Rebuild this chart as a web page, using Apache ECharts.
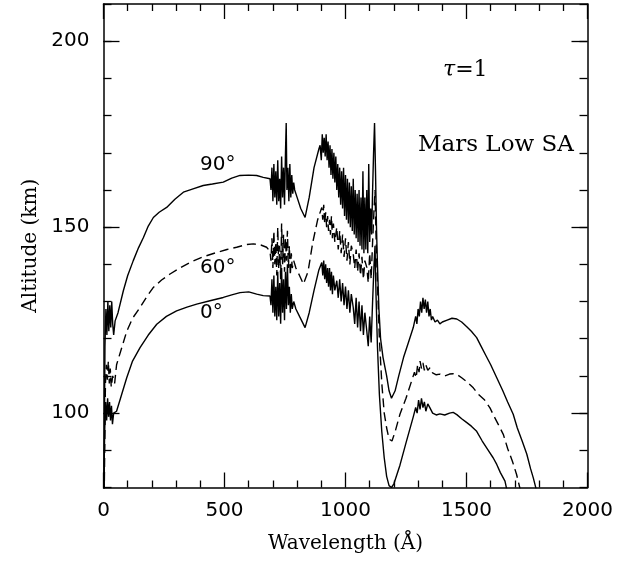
<!DOCTYPE html>
<html>
<head>
<meta charset="utf-8">
<script src="https://cdn.jsdelivr.net/npm/echarts@6/dist/echarts.min.js"></script>
<style>
	html, body { margin: 0; padding: 0; background: #fff; }
	#main { width: 626px; height: 561px; }
</style>
</head>
<body>
<div id="main"></div>
<script>
// 坐标轴刻度
var xMajorTicks = [0, 500, 1000, 1500, 2000];
var yMajorTicks = [100, 150, 200];

// 90° 曲线 [波长 Å, 高度 km]
var alt90 = [
	[2, 78], [6, 118], [10, 128], [14, 121], [18, 130], [22, 122], [26, 129], [30, 123], [34, 130], [38, 124],
	[42, 121], [48, 124.8], [60, 127], [82, 132.9], [100, 137], [123, 141], [145, 144.5], [165, 147.2],
	[185, 150.3], [206, 152.6], [230, 154], [261, 155.3], [295, 157.5], [330, 159.4], [370, 160.3],
	[412, 161.2], [450, 161.6], [495, 162.1], [530, 163.2], [564, 163.9], [600, 164], [633, 163.9],
	[660, 163.4], [688, 163.0],
	[692, 160], [696, 166], [700, 157], [704, 167], [708, 158], [712, 165], [716, 156], [720, 168],
	[724, 157], [728, 163], [732, 155], [736, 169], [740, 158], [744, 166], [748, 156], [752, 170],
	[755, 178], [758, 160], [762, 166], [766, 157], [770, 167], [774, 158], [778, 164], [782, 159],
	[786, 162], [790, 160], [800, 158], [815, 155], [833, 152.6], [850, 158], [870, 166], [890, 171],
	[895, 172], [900, 168], [904, 175], [908, 170], [912, 174], [916, 169], [920, 175], [924, 168],
	[928, 173], [932, 166], [936, 172], [940, 164], [944, 171], [948, 163], [952, 170], [956, 162],
	[960, 169], [964, 160], [968, 167], [972, 158], [976, 166], [980, 156], [984, 165], [988, 155],
	[992, 166], [996, 153], [1000, 164], [1004, 152], [1008, 163], [1012, 151], [1016, 162], [1020, 150],
	[1024, 161], [1028, 149], [1032, 163], [1036, 148], [1040, 160], [1044, 147], [1048, 159], [1052, 146],
	[1056, 160], [1060, 145], [1064, 158], [1068, 144], [1072, 165], [1076, 143], [1080, 158], [1084, 144],
	[1088, 160], [1092, 143], [1096, 167], [1100, 146], [1104, 155], [1108, 148], [1112, 160], [1116, 170],
	[1120, 178], [1124, 165], [1128, 150], [1132, 140], [1138, 128], [1145, 120], [1155, 115], [1170, 110],
	[1180, 106], [1190, 104], [1205, 106], [1220, 110], [1240, 115], [1260, 119],
	[1280, 123], [1290, 126], [1295, 124], [1300, 128], [1305, 126], [1310, 130], [1315, 127], [1320, 131],
	[1325, 128], [1330, 130.5], [1335, 127], [1340, 130], [1345, 126], [1350, 128], [1355, 125], [1360, 126],
	[1370, 124.5], [1380, 125], [1390, 124], [1400, 124.5], [1420, 125], [1440, 125.5], [1460, 125.3],
	[1480, 124.5], [1500, 123.3], [1520, 122], [1542, 120.3], [1560, 118], [1580, 115.5], [1600, 113],
	[1625, 109.5], [1650, 106], [1670, 103], [1693, 99.7], [1710, 96], [1730, 92.5], [1749, 89],
	[1765, 85], [1776, 82.6], [1790, 79]
];

// 60° 曲线（虚线）
var alt60 = [
	[3, 78], [8, 108], [12, 113], [16, 109], [20, 114], [24, 108], [28, 112], [32, 107], [38, 110],
	[46, 108], [54, 113], [75, 117.5], [96, 122], [120, 125.5], [151, 128.4], [180, 131.4], [206, 133.8],
	[240, 135.8], [275, 137.4], [315, 139], [357, 140.5], [410, 142], [468, 143.2], [510, 144],
	[550, 144.6], [590, 145.3], [619, 145.5], [650, 145.2], [674, 144.6], [688, 143.5],
	[692, 141], [696, 147], [700, 139], [704, 149], [708, 140], [712, 146], [716, 137], [720, 150],
	[724, 139], [728, 145], [732, 136], [736, 151], [740, 140], [744, 148], [748, 138], [752, 147],
	[756, 141], [760, 149], [764, 139], [768, 145], [772, 137], [776, 143], [780, 139], [786, 141],
	[795, 139], [810, 137], [826, 134.7], [845, 138], [865, 146], [885, 152], [902, 155.3], [906, 152],
	[910, 156], [914, 151], [918, 154], [922, 150], [926, 153], [930, 149], [934, 152], [938, 148],
	[942, 153], [946, 147], [950, 151], [956, 146], [964, 150], [970, 144], [976, 149], [982, 143],
	[988, 148], [994, 142], [1000, 147], [1006, 141], [1012, 146], [1018, 140], [1024, 145], [1032, 142.8],
	[1038, 139], [1044, 144], [1050, 138], [1056, 143], [1062, 137], [1068, 142], [1074, 136], [1080, 141],
	[1088, 139.2], [1094, 135], [1100, 143], [1106, 136], [1112, 146], [1118, 155], [1122, 160], [1126, 148],
	[1132, 135], [1140, 120], [1150, 108], [1160, 100], [1170, 96], [1180, 93], [1192, 92.5], [1205, 95],
	[1225, 99.7], [1250, 104], [1270, 108],
	[1285, 111], [1292, 109.5], [1298, 113], [1304, 111], [1308, 114], [1314, 112], [1320, 113.5],
	[1326, 111.5], [1332, 113], [1340, 111.5], [1349, 112.2], [1360, 110.8], [1375, 110.3], [1390, 110.5],
	[1410, 110], [1430, 110.5], [1445, 110.6], [1460, 110.4], [1480, 109.5], [1500, 108.5], [1528, 106.8],
	[1550, 105], [1575, 103.5], [1597, 101.4], [1615, 99], [1635, 96.5], [1652, 94.3], [1670, 90.5],
	[1690, 87], [1707, 83.5], [1720, 80], [1725, 79]
];

// 0° 曲线
var alt0 = [
	[1, 78], [5, 96], [9, 103], [13, 98], [17, 104], [21, 99], [25, 103], [29, 98], [33, 102], [37, 97],
	[42, 100], [54, 100.5], [75, 105], [96, 109.5], [120, 114], [151, 117.6], [185, 121], [220, 123.9],
	[260, 126], [302, 127.5], [345, 128.5], [385, 129.3], [440, 130.2], [495, 131.1], [530, 131.8],
	[564, 132.4], [600, 132.6], [633, 132], [660, 131.6], [688, 131.5],
	[692, 129], [696, 136], [700, 127], [704, 137], [708, 126], [712, 134], [716, 125], [720, 138],
	[724, 126], [728, 135], [732, 124], [736, 139], [740, 127], [744, 136], [748, 125], [752, 138],
	[756, 128], [760, 140], [764, 129], [768, 134], [772, 127], [776, 132], [780, 128], [786, 130],
	[795, 128], [810, 126], [833, 123], [850, 127], [870, 133], [890, 138.5], [902, 140.5], [906, 137],
	[910, 141], [914, 136], [918, 140], [922, 135], [926, 139], [930, 134], [934, 139], [938, 133],
	[942, 138], [946, 132], [950, 137], [956, 133], [964, 135.6], [970, 131], [976, 136], [982, 130],
	[988, 135], [994, 129], [1000, 134], [1006, 128], [1012, 133], [1018, 127], [1024, 132], [1032, 128.4],
	[1038, 124], [1044, 131], [1050, 123], [1056, 130], [1062, 122], [1068, 129], [1074, 121], [1080, 127],
	[1088, 122], [1094, 118], [1100, 126], [1106, 119], [1112, 130], [1118, 140], [1122, 145], [1126, 132],
	[1132, 118], [1140, 105], [1150, 95], [1160, 88], [1170, 83], [1180, 80.5], [1190, 80], [1200, 81],
	[1225, 86], [1250, 92], [1280, 99],
	[1290, 101.5], [1296, 100], [1302, 103.5], [1308, 101], [1314, 104], [1320, 101.5], [1326, 103],
	[1332, 100.5], [1340, 102.5], [1349, 101.4], [1360, 100], [1375, 99.5], [1390, 99.8], [1410, 99.5],
	[1430, 100], [1445, 100.2], [1460, 99.6], [1480, 98.5], [1500, 97.5], [1520, 96.5], [1542, 95.1],
	[1565, 92.5], [1590, 90], [1610, 88], [1625, 86.2], [1640, 84], [1659, 81.7], [1668, 79]
];

function makeXAxis(pos, showLabel) {
	return {
		type: 'value', position: pos, min: 0, max: 2000, interval: 500,
		axisLine: { show: true, onZero: false, lineStyle: { color: '#000', width: 1.5 } },
		axisTick: { show: true, inside: true, length: 15, lineStyle: { color: '#000', width: 1.3 } },
		minorTick: { show: true, splitNumber: 5, length: 7, lineStyle: { color: '#000', width: 1.3 } },
		axisLabel: {
			show: showLabel, customValues: xMajorTicks, color: '#000', fontFamily: 'DejaVu Sans', fontSize: 20, margin: 13,
			formatter: function(v) { return String(v); }
		},
		splitLine: { show: false }
	};
}

function makeYAxis(pos, showLabel, major) {
	return {
		type: 'value', position: pos, min: 80, max: 210, interval: 10,
		axisLine: { show: !major, onZero: false, lineStyle: { color: '#000', width: 1.5 } },
		axisTick: major
			? { show: true, inside: true, length: 16, customValues: yMajorTicks, lineStyle: { color: '#000', width: 1.3 } }
			: { show: true, inside: true, length: 8, lineStyle: { color: '#000', width: 1.3 } },
		axisLabel: {
			show: showLabel, customValues: yMajorTicks, color: '#000', fontFamily: 'DejaVu Sans', fontSize: 20, margin: 14,
			formatter: function(v) { return String(v); }
		},
		splitLine: { show: false }
	};
}

function display() {
	var myChart = echarts.init(document.getElementById('main'));

	var xBottom = makeXAxis('bottom', true);
	xBottom.name = 'Wavelength (Å)';
	xBottom.nameLocation = 'middle';
	xBottom.nameGap = 46;
	xBottom.nameTextStyle = { color: '#000', fontFamily: 'DejaVu Serif', fontSize: 20 };

	var yLeft = makeYAxis('left', true, false);
	yLeft.name = 'Altitude (km)';
	yLeft.nameLocation = 'middle';
	yLeft.nameGap = 62;
	yLeft.nameTextStyle = { color: '#000', fontFamily: 'DejaVu Serif', fontSize: 20 };

	var line = function(data, type) {
		return {
			type: 'line', data: data, xAxisIndex: 0, yAxisIndex: 0,
			showSymbol: false, clip: true, silent: true,
			lineStyle: { color: '#000', width: 1.4, type: type }
		};
	};

	var option = {
		animation: false,
		backgroundColor: '#fff',
		grid: { left: 103.5, right: 38.5, top: 4, bottom: 73.5 },
		xAxis: [xBottom, makeXAxis('top', false)],
		yAxis: [yLeft, makeYAxis('left', false, true), makeYAxis('right', false, false), makeYAxis('right', false, true)],
		series: [
			line(alt90, 'solid'),
			line(alt60, [9, 5]),
			line(alt0, 'solid')
		],
		graphic: [
			{ type: 'text', left: 200, top: 155, style: { text: '90°', fontFamily: 'DejaVu Sans', fontSize: 20, fill: '#000' } },
			{ type: 'text', left: 200, top: 258, style: { text: '60°', fontFamily: 'DejaVu Sans', fontSize: 20, fill: '#000' } },
			{ type: 'text', left: 200, top: 303, style: { text: '0°', fontFamily: 'DejaVu Sans', fontSize: 20, fill: '#000' } },
			{ type: 'text', left: 443, top: 59, style: {
				text: '{t|τ}{n|=1}',
				rich: {
					t: { fontFamily: 'DejaVu Serif', fontStyle: 'italic', fontSize: 22, fill: '#000' },
					n: { fontFamily: 'DejaVu Serif', fontSize: 22, fill: '#000' }
				}
			} },
			{ type: 'text', left: 418, top: 134, style: { text: 'Mars Low SA', fontFamily: 'DejaVu Serif', fontSize: 23, fill: '#000' } }
		]
	};

	myChart.setOption(option);
}

display();
</script>
</body>
</html>
